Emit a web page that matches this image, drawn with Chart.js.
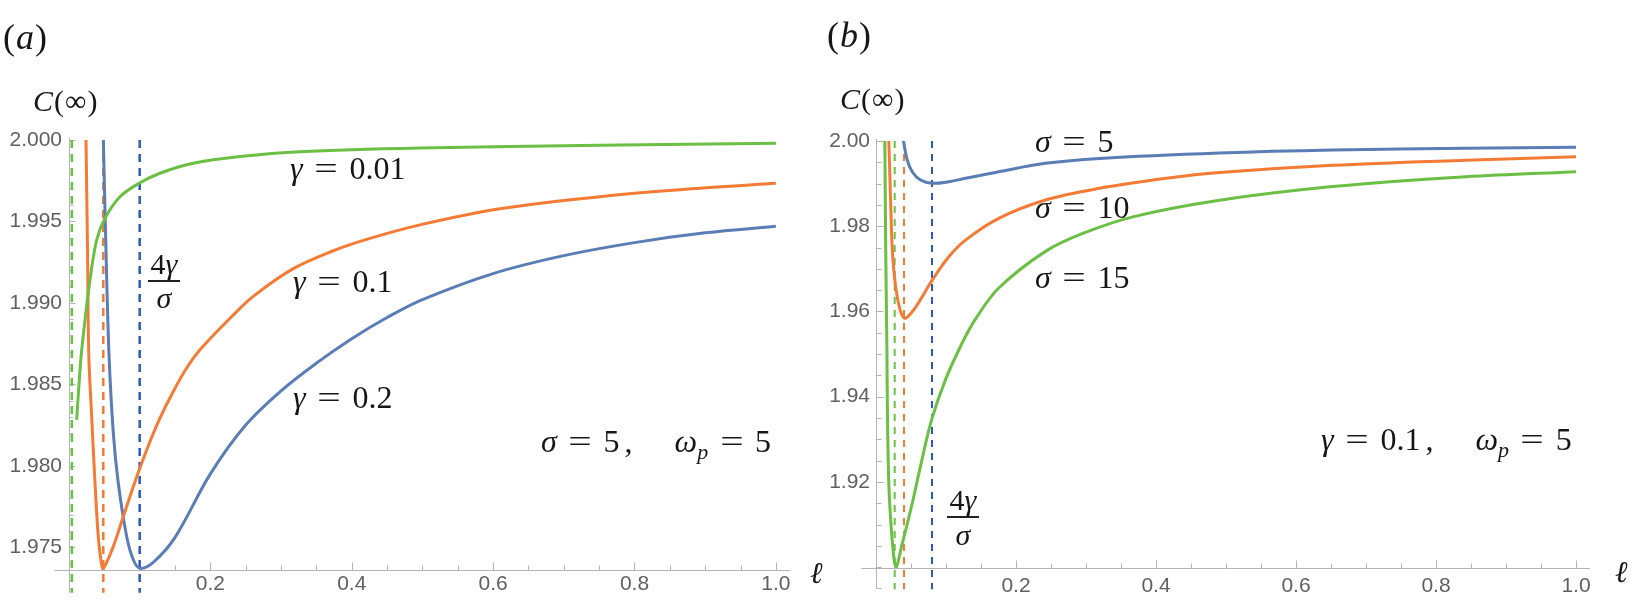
<!DOCTYPE html>
<html>
<head>
<meta charset="utf-8">
<script src="https://cdn.jsdelivr.net/npm/chart.js@4.4.0/dist/chart.umd.min.js"></script>
<style>
  html, body { margin: 0; padding: 0; background: #fff; }
  #wrap { position: relative; width: 1634px; height: 602px; overflow: hidden; }
  canvas { position: absolute; top: 0; }
  .m { position: absolute; font-family: "Liberation Serif", "DejaVu Serif", serif; font-size: 32px;
       line-height: 1; white-space: nowrap; color: #161616; }
  .eq { display: inline-block; margin: 0 0.45em; transform: scaleX(1.3); }
  .sub { font-size: 22px; position: relative; top: 7px; font-style: italic; }
  .frac { position: absolute; width: 60px; text-align: center; font-family: "Liberation Serif", serif;
          font-size: 30px; line-height: 1; color: #161616; }
  .bar { position: absolute; height: 1.6px; background: #222; }
</style>
</head>
<body>
<div id="wrap">
  <canvas id="chartA" width="800" height="602" style="left:0"></canvas>
  <canvas id="chartB" width="828" height="602" style="left:806px"></canvas>

  <div class="m" style="left:3px;top:19px;font-size:36px;letter-spacing:1px">(<i>a</i>)</div>
  <div class="m" style="left:827px;top:17px;font-size:36px;letter-spacing:1px">(<i>b</i>)</div>
  <div class="m" style="left:33px;top:86px;font-size:30px;letter-spacing:1px"><i>C</i>(∞)</div>
  <div class="m" style="left:840px;top:84px;font-size:30px;letter-spacing:1px"><i>C</i>(∞)</div>
  <div class="m" style="left:810px;top:558px;font-size:30px"><i>ℓ</i></div>
  <div class="m" style="left:1615px;top:557px;font-size:30px"><i>ℓ</i></div>

  <div class="m" style="left:290px;top:152px"><i>γ</i><span class="eq">=</span>0.01</div>
  <div class="m" style="left:293px;top:265px"><i>γ</i><span class="eq">=</span>0.1</div>
  <div class="m" style="left:293px;top:381px"><i>γ</i><span class="eq">=</span>0.2</div>
  <div class="m" style="left:541px;top:425px"><i>σ</i><span class="eq">=</span>5<span style="margin-left:5px">,</span><span style="margin-left:42px"><i>ω</i><span class="sub">p</span></span><span class="eq">=</span>5</div>

  <div class="frac" style="left:134px;top:249px">4<i>γ</i></div>
  <div class="bar" style="left:148px;top:280px;width:32px"></div>
  <div class="frac" style="left:134px;top:283px"><i>σ</i></div>

  <div class="m" style="left:1035px;top:125px"><i>σ</i><span class="eq">=</span>5</div>
  <div class="m" style="left:1035px;top:191px"><i>σ</i><span class="eq">=</span>10</div>
  <div class="m" style="left:1035px;top:261px"><i>σ</i><span class="eq">=</span>15</div>
  <div class="m" style="left:1321px;top:423px"><i>γ</i><span class="eq">=</span>0.1<span style="margin-left:5px">,</span><span style="margin-left:42px"><i>ω</i><span class="sub">p</span></span><span class="eq">=</span>5</div>

  <div class="frac" style="left:933px;top:485px">4<i>γ</i></div>
  <div class="bar" style="left:947px;top:516px;width:32px"></div>
  <div class="frac" style="left:933px;top:520px"><i>σ</i></div>
</div>

<script>
// ---- tick labels ----
const xTicks = [0.2, 0.4, 0.6, 0.8, 1.0];
const yTicksA = [1.975, 1.980, 1.985, 1.990, 1.995, 2.000];
const yTicksB = [1.92, 1.94, 1.96, 1.98, 2.00];

// ---- panel (a): sigma = 5, omega_p = 5 ----
const ellBlueA = [0.0485, 0.0523, 0.0566, 0.0627, 0.0697, 0.0816, 0.0910, 0.1004, 0.12, 0.15, 0.2, 0.25, 0.3, 0.35, 0.4, 0.45, 0.5, 0.6, 0.7, 0.8, 0.9, 1.0];
const cBlueA = [2.0002, 1.99325, 1.98681, 1.98201, 1.97894, 1.97566, 1.97423, 1.97370, 1.9741, 1.9756, 1.9795, 1.9825, 1.9846, 1.9863, 1.9878, 1.9891, 1.9902, 1.9918, 1.9929, 1.9937, 1.9943, 1.9947];

const ellOrangeA = [0.0240, 0.0262, 0.0280, 0.0321, 0.0368, 0.0414, 0.0453, 0.0485, 0.0627, 0.0745, 0.0863, 0.0990, 0.1146, 0.1287, 0.1475, 0.1665, 0.1853, 0.2300, 0.2607, 0.3173, 0.3738, 0.4211, 0.4965, 0.6096, 0.7511, 0.8925, 1.0];
const cOrangeA = [2.0002, 1.99325, 1.98681, 1.98302, 1.97894, 1.97566, 1.97417, 1.97370, 1.97505, 1.97658, 1.97812, 1.97971, 1.98149, 1.98293, 1.98456, 1.98600, 1.98712, 1.98915, 1.99040, 1.99210, 1.99320, 1.99390, 1.99479, 1.99578, 1.99652, 1.99704, 1.99734];

const ellGreenA = [0.0109, 0.0141, 0.0180, 0.0297, 0.0392, 0.0509, 0.0721, 0.0990, 0.1287, 0.1758, 0.2419, 0.3267, 0.4965, 0.7511, 1.0];
const cGreenA = [1.98282, 1.98497, 1.98712, 1.99141, 1.99387, 1.99520, 1.99652, 1.99734, 1.99796, 1.99857, 1.99898, 1.99928, 1.99951, 1.99968, 1.99980];

// dashed markers 4γ/σ (green, orange, blue)
const dashA = [0.004, 0.0485, 0.1];

// ---- panel (b): gamma = 0.1, omega_p = 5 ----
const ellBlueB = [0.0390, 0.0446, 0.0517, 0.0636, 0.0803, 0.1040, 0.1279, 0.1754, 0.2421, 0.3193, 0.4907, 0.6526, 0.8431, 1.0];
const cBlueB = [2.0002, 1.99554, 1.99279, 1.99084, 1.99007, 1.99044, 1.99124, 1.99279, 1.99476, 1.99590, 1.99718, 1.99789, 1.99829, 1.99852];

const ellOrangeB = [0.0183, 0.0207, 0.0231, 0.0269, 0.0333, 0.0407, 0.0517, 0.0660, 0.0803, 0.1040, 0.1279, 0.1754, 0.2421, 0.3193, 0.4146, 0.4907, 0.6526, 0.8431, 1.0];
const cOrangeB = [2.0002, 1.98692, 1.97518, 1.96736, 1.96109, 1.95840, 1.95992, 1.96344, 1.96736, 1.97283, 1.97675, 1.98185, 1.98615, 1.98889, 1.99124, 1.99260, 1.99430, 1.99550, 1.99630];

const ellGreenB = [0.0126, 0.0139, 0.0156, 0.0164, 0.0183, 0.0207, 0.0254, 0.0289, 0.0364, 0.0517, 0.0636, 0.0793, 0.0993, 0.1231, 0.1421, 0.1754, 0.2421, 0.2954, 0.3669, 0.4907, 0.6526, 0.8431, 1.0];
const cGreenB = [2.0002, 1.97441, 1.95093, 1.93528, 1.91963, 1.91179, 1.90239, 1.90000, 1.90474, 1.91493, 1.92370, 1.93449, 1.94400, 1.95260, 1.95820, 1.96550, 1.97410, 1.97830, 1.98220, 1.98610, 1.98930, 1.99160, 1.99280];

const dashB = [0.0267, 0.04, 0.08];

const BLUE = '#5b7db5', ORANGE = '#f47b36', GREEN = '#6cbf45', BLUE_DASH = '#2f58be';

const pts = (xs, ys) => xs.map((x, i) => ({ x: x, y: ys[i] }));

const curve = (xs, ys, color, order) => ({
  data: pts(xs, ys), borderColor: color, borderWidth: 3, pointRadius: 0,
  tension: 0.35, fill: false, order: order
});

const dashed = (x, yLow, color, width, dash) => ({
  data: [{ x: x, y: 2.0 }, { x: x, y: yLow }], borderColor: color, borderWidth: width,
  borderDash: dash, pointRadius: 0, tension: 0, clip: false, order: 10
});

// Mathematica-style axes: lines through the origin, inward ticks
const mmaAxes = {
  id: 'mmaAxes',
  beforeDatasetsDraw(chart, args, o) {
    const { ctx, chartArea: area, scales: { x, y } } = chart;
    const ax = Math.round(x.getPixelForValue(0)) + 0.5;
    const ay = Math.round(area.bottom) + 0.5;
    ctx.save();
    ctx.strokeStyle = '#b4b4b4';
    ctx.lineWidth = 1;
    ctx.beginPath();
    ctx.moveTo(x.getPixelForValue(o.xStart), ay);
    ctx.lineTo(area.right, ay);
    ctx.moveTo(ax, area.top - 2);
    ctx.lineTo(ax, y.getPixelForValue(o.yStart));
    for (let i = 1; i <= 20; i++) {
      const v = i * 0.05;
      const major = xTicks.some(t => Math.abs(t - v) < 1e-6);
      const px = Math.round(x.getPixelForValue(v)) + 0.5;
      ctx.moveTo(px, ay);
      ctx.lineTo(px, ay - (major ? 8 : 5));
    }
    const n = Math.floor((2 - o.yStart) / o.yMinor + 1e-6);
    for (let i = 0; i <= n; i++) {
      const v = 2 - i * o.yMinor;
      const major = o.yTicks.some(t => Math.abs(t - v) < 1e-7);
      const py = Math.round(y.getPixelForValue(v)) + 0.5;
      ctx.moveTo(ax, py);
      ctx.lineTo(ax + (major ? o.yMajorLen : o.yMinorLen), py);
    }
    ctx.stroke();
    ctx.restore();
  }
};

function makePanel(id, p) {
  return new Chart(document.getElementById(id), {
    type: 'line',
    data: { datasets: p.datasets },
    options: {
      responsive: false,
      animation: false,
      events: [],
      layout: { padding: { top: p.top, right: p.right, left: 0, bottom: 0 } },
      plugins: { legend: { display: false }, tooltip: { enabled: false }, mmaAxes: p.axes },
      scales: {
        x: {
          type: 'linear', min: 0, max: 1.02,
          border: { display: false },
          grid: { display: false, drawTicks: false },
          afterBuildTicks: s => { s.ticks = xTicks.map(v => ({ value: v })); },
          afterFit: s => { s.height = p.xh; },
          ticks: { autoSkip: false, maxRotation: 0, padding: p.xpad, color: '#606060',
                   font: { family: 'Liberation Sans', size: 21 }, callback: v => v.toFixed(1) }
        },
        y: {
          type: 'linear', min: p.ymin, max: 2.0,
          border: { display: false },
          grid: { display: false, drawTicks: false },
          afterBuildTicks: s => { s.ticks = p.yTicks.map(v => ({ value: v })); },
          afterFit: s => { s.width = p.yw; },
          ticks: { autoSkip: false, padding: p.ypad, color: '#606060',
                   font: { family: 'Liberation Sans', size: 21 }, callback: v => v.toFixed(p.dec) }
        }
      }
    },
    plugins: [mmaAxes]
  });
}

makePanel('chartA', {
  top: 140, right: 10, xh: 32, yw: 69, xpad: 2, ypad: 7, ymin: 1.9736, yTicks: yTicksA, dec: 3,
  axes: { xStart: -0.021, yStart: 1.9722, yMinor: 0.001, yTicks: yTicksA, yMajorLen: 6, yMinorLen: 4 },
  datasets: [
    curve(ellGreenA, cGreenA, GREEN, 1),
    curve(ellOrangeA, cOrangeA, ORANGE, 2),
    curve(ellBlueA, cBlueA, BLUE, 3),
    dashed(dashA[0], 1.9722, GREEN, 2.5, [8, 6]),
    dashed(dashA[1], 1.9722, ORANGE, 2.5, [8, 6]),
    dashed(dashA[2], 1.9722, BLUE_DASH, 2.5, [8, 6])
  ]
});

makePanel('chartB', {
  top: 141, right: 44, xh: 34, yw: 70, xpad: 6, ypad: 6, ymin: 1.8998, yTicks: yTicksB, dec: 2,
  axes: { xStart: -0.021, yStart: 1.895, yMinor: 0.005, yTicks: yTicksB, yMajorLen: 7, yMinorLen: 5 },
  datasets: [
    curve(ellGreenB, cGreenB, GREEN, 1),
    curve(ellOrangeB, cOrangeB, ORANGE, 2),
    curve(ellBlueB, cBlueB, BLUE, 3),
    dashed(dashB[0], 1.8948, GREEN, 2, [7, 6]),
    dashed(dashB[1], 1.8948, ORANGE, 2, [7, 6]),
    dashed(dashB[2], 1.8948, BLUE_DASH, 2, [7, 6])
  ]
});
</script>
</body>
</html>
